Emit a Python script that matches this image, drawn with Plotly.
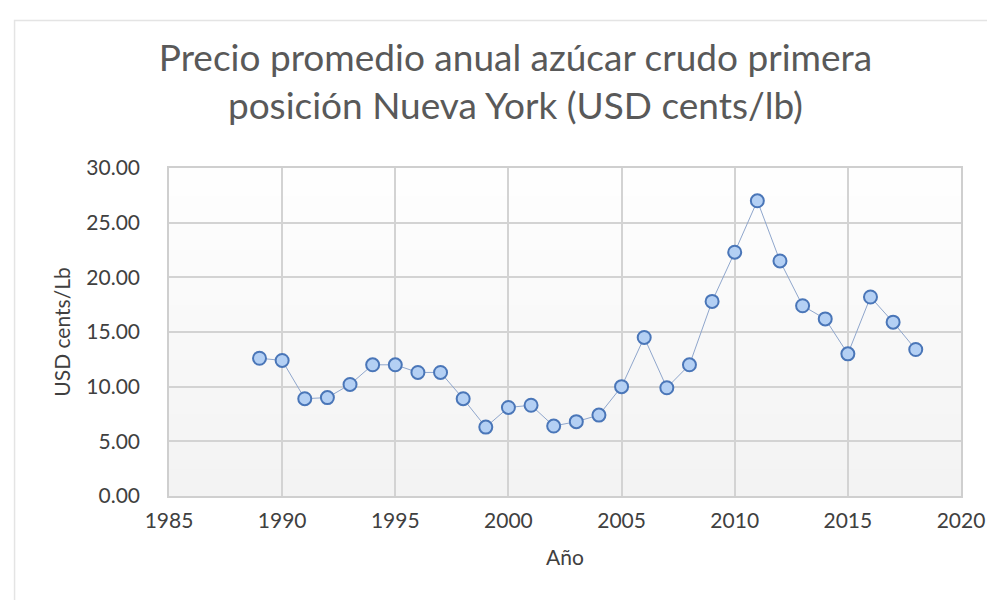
import plotly.graph_objects as go

years = list(range(1989, 2019))
prices = [12.6, 12.4, 8.9, 9.0, 10.2, 12.0, 12.0, 11.3, 11.3, 8.9,
          6.3, 8.1, 8.3, 6.4, 6.8, 7.4, 10.0, 14.5, 9.9, 12.0,
          17.8, 22.3, 27.0, 21.5, 17.4, 16.2, 13.0, 18.2, 15.9, 13.4]

title_text = "Precio promedio anual azúcar crudo primera<br>posición Nueva York (USD cents/lb)"
x_title = "Año"
y_title = "USD cents/Lb"

fig = go.Figure()
fig.add_trace(go.Scatter(
    x=years, y=prices, mode="lines+markers",
    line=dict(color="#8fa6cc", width=1),
    marker=dict(size=13, color="#b4d0f4", line=dict(color="#4a76b8", width=2)),
    showlegend=False, hoverinfo="x+y",
))

# subtle vertical gradient in plot background (white top -> light gray bottom)
n = 12
shapes = []
for i in range(n):
    shapes.append(dict(type="rect", xref="x domain", yref="y domain",
                       x0=0, x1=1, y0=0, y1=1 - i / n,
                       fillcolor="#e4e4e4", opacity=0.05, line_width=0, layer="below"))
# faint chart-area border
shapes.append(dict(type="rect", xref="paper", yref="paper",
                   x0=-0.195, x1=1.045, y0=-0.36, y1=1.45,
                   line=dict(color="#e4e4e4", width=1.5), fillcolor="rgba(0,0,0,0)",
                   layer="below"))

font_family = "Lato, 'Open Sans', sans-serif"
axis_font = dict(family=font_family, size=21, color="#404040")
fig.update_layout(
    width=995, height=600,
    margin=dict(l=161, r=42, t=160, b=112),
    paper_bgcolor="white", plot_bgcolor="white",
    shapes=shapes,
    title=dict(text=title_text, x=0.51, xref="container", xanchor="center",
               y=0.895, yanchor="top",
               font=dict(family=font_family, size=37, color="#595959")),
    xaxis=dict(range=[1985, 2020], dtick=5, tick0=1985,
               showgrid=True, gridcolor="#d3d3d3", gridwidth=1.5,
               showline=True, linecolor="#cfcfcf", linewidth=1.5, mirror=True,
               ticks="", zeroline=False, ticklabelstandoff=5,
               tickfont=axis_font,
               title=dict(text=x_title, font=axis_font, standoff=19)),
    yaxis=dict(range=[0, 30], dtick=5, tickformat=".2f",
               showgrid=True, gridcolor="#d3d3d3", gridwidth=1.5,
               showline=True, linecolor="#cfcfcf", linewidth=1.5, mirror=True,
               ticks="", zeroline=False, ticklabelstandoff=23,
               tickfont=axis_font,
               title=dict(text=y_title, font=axis_font, standoff=10)),
)

fig.write_html("out.html")
